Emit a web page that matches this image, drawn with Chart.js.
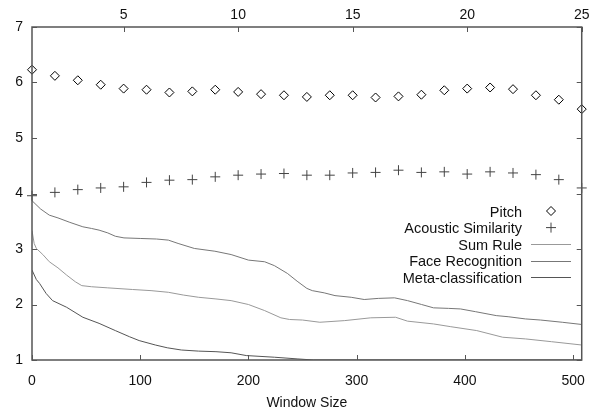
<!DOCTYPE html>
<html>
<head>
<meta charset="utf-8">
<script src="https://cdn.jsdelivr.net/npm/chart.js@4"></script>
<style>
  html, body { margin: 0; padding: 0; background: #fff; }
  #wrap { width: 598px; height: 410px; }
</style>
</head>
<body>
<div id="wrap"><canvas id="chart" width="598" height="410"></canvas></div>
<script>
const FONT       = { family: '"Liberation Sans", Arial, sans-serif', size: 14 };
const LEGEND_PX  = 14.5;
const TEXT_COLOR = '#111';
const FRAME      = '#555';

// top axis: index 1..25, scatter series
const topTicks    = [5, 10, 15, 20, 25];
const bottomTicks = [0, 100, 200, 300, 400, 500];
const pitchIdx    = [1,2,3,4,5,6,7,8,9,10,11,12,13,14,15,16,17,18,19,20,21,22,23,24,25];
const pitchVals   = [6.23,6.12,6.04,5.96,5.89,5.87,5.82,5.84,5.87,5.83,5.79,5.77,5.74,
                     5.77,5.77,5.73,5.75,5.78,5.86,5.89,5.91,5.88,5.77,5.69,5.52];
const acousticVals= [3.96,4.02,4.07,4.10,4.12,4.20,4.24,4.25,4.30,4.33,4.35,4.36,4.33,
                     4.33,4.37,4.38,4.42,4.38,4.39,4.35,4.39,4.37,4.34,4.25,4.10];

// bottom axis: window size, line series
const faceWin  = [0,8,16,24,35,47,55,62,70,77,85,100,115,126,135,150,169,184,200,215,224,236,245,
                  254,259,270,280,295,307,320,335,347,360,371,385,396,410,429,440,456,470,490,508];
const faceVals = [3.87,3.72,3.61,3.56,3.48,3.40,3.37,3.34,3.29,3.23,3.20,3.19,3.18,3.16,3.10,3.01,
                  2.96,2.90,2.80,2.77,2.70,2.56,2.42,2.29,2.25,2.21,2.16,2.13,2.09,2.11,2.12,2.07,
                  2.00,1.94,1.93,1.92,1.87,1.80,1.78,1.74,1.72,1.68,1.64];
const sumWin   = [0,2,4,10,16,24,32,40,46,55,70,93,110,126,140,154,170,184,200,215,230,238,250,
                  266,289,313,336,347,371,387,411,435,456,480,508];
const sumVals  = [3.33,3.10,3.01,2.90,2.77,2.66,2.53,2.41,2.34,2.32,2.30,2.27,2.25,2.22,2.17,2.13,
                  2.10,2.07,2.00,1.89,1.76,1.73,1.72,1.68,1.71,1.76,1.77,1.70,1.65,1.60,1.53,1.41,
                  1.38,1.33,1.27];
const metaWin  = [0,4,7,13,19,32,47,62,77,90,99,114,125,138,154,170,184,198,224,245,260,300,400,508];
const metaVals = [2.62,2.45,2.38,2.20,2.07,1.95,1.77,1.66,1.53,1.42,1.35,1.27,1.22,1.18,1.16,1.15,
                  1.13,1.08,1.05,1.02,1.00,1.00,1.00,1.00];

const pairs = (xs, ys) => xs.map((x, i) => ({ x, y: ys[i] }));

const framePlugin = {
  id: 'frame',
  afterDatasetsDraw(chart) {
    const { ctx, chartArea: a, scales } = chart;
    ctx.save();
    ctx.strokeStyle = FRAME;
    ctx.lineWidth = 1.5;
    ctx.strokeRect(a.left, a.top, a.right - a.left, a.bottom - a.top);
    ctx.lineWidth = 1;
    const len = 5;
    ctx.beginPath();
    scales.y.ticks.forEach(t => {
      const py = Math.round(scales.y.getPixelForValue(t.value)) + 0.5;
      ctx.moveTo(a.left, py);  ctx.lineTo(a.left + len, py);
      ctx.moveTo(a.right, py); ctx.lineTo(a.right - len, py);
    });
    scales.x.ticks.forEach(t => {
      const px = Math.round(scales.x.getPixelForValue(t.value)) + 0.5;
      ctx.moveTo(px, a.bottom); ctx.lineTo(px, a.bottom - len);
    });
    scales.x2.ticks.forEach(t => {
      const px = Math.round(scales.x2.getPixelForValue(t.value)) + 0.5;
      ctx.moveTo(px, a.top); ctx.lineTo(px, a.top + len);
    });
    ctx.stroke();
    ctx.restore();
  },
  afterDraw(chart) {
    // gnuplot-style legend: text right aligned, sample on the right
    const { ctx } = chart;
    const textRight = 522, sx0 = 531, sx1 = 571, top = 211, step = 16.6;
    ctx.save();
    ctx.font = `${LEGEND_PX}px ${FONT.family}`;
    ctx.textAlign = 'right';
    ctx.textBaseline = 'middle';
    chart.data.datasets.forEach((ds, i) => {
      const y = top + i * step;
      ctx.fillStyle = TEXT_COLOR;
      ctx.fillText(ds.label, textRight, y + 1.5);
      ctx.strokeStyle = ds.borderColor;
      ctx.lineWidth = 1;
      if (ds.showLine) {
        ctx.beginPath();
        ctx.moveTo(sx0, Math.round(y) + 0.5);
        ctx.lineTo(sx1, Math.round(y) + 0.5);
        ctx.stroke();
      } else {
        ctx.fillStyle = 'rgba(0,0,0,0)';
        Chart.helpers.drawPoint(ctx, {
          pointStyle: ds.pointStyle, radius: ds.pointRadius, borderWidth: 1
        }, (sx0 + sx1) / 2, y);
      }
    });
    ctx.restore();
  }
};

new Chart(document.getElementById('chart'), {
  type: 'scatter',
  data: {
    datasets: [
      { label: 'Pitch', xAxisID: 'x2', data: pairs(pitchIdx, pitchVals),
        pointStyle: 'rectRot', pointRadius: 4.5, borderColor: '#000', borderWidth: 1,
        backgroundColor: 'rgba(0,0,0,0)', clip: 10 },
      { label: 'Acoustic Similarity', xAxisID: 'x2', data: pairs(pitchIdx, acousticVals),
        pointStyle: 'cross', pointRadius: 5, borderColor: '#444', borderWidth: 1, clip: 10 },
      { label: 'Sum Rule', xAxisID: 'x', data: pairs(sumWin, sumVals), showLine: true,
        pointRadius: 0, borderColor: '#999', borderWidth: 1, tension: 0 },
      { label: 'Face Recognition', xAxisID: 'x', data: pairs(faceWin, faceVals), showLine: true,
        pointRadius: 0, borderColor: '#777', borderWidth: 1, tension: 0 },
      { label: 'Meta-classification', xAxisID: 'x', data: pairs(metaWin, metaVals), showLine: true,
        pointRadius: 0, borderColor: '#555', borderWidth: 1, tension: 0 },
    ],
  },
  options: {
    responsive: false,
    animation: false,
    layout: { padding: { left: 0, right: 11, top: 0, bottom: 0 } },
    plugins: { legend: { display: false }, tooltip: { enabled: false } },
    scales: {
      x: {
        type: 'linear', position: 'bottom', min: 0, max: 508,
        grid: { display: false, drawTicks: false }, border: { display: false },
        ticks: { color: TEXT_COLOR, font: FONT, padding: 13 },
        afterBuildTicks: s => { s.ticks = bottomTicks.map(v => ({ value: v })); },
        title: { display: true, text: 'Window Size', color: TEXT_COLOR,
                 font: { ...FONT, lineHeight: 1 }, padding: 0 },
        afterFit: s => { s.height = 50; },
      },
      x2: {
        type: 'linear', position: 'top', min: 1, max: 25,
        grid: { display: false, drawTicks: false }, border: { display: false },
        ticks: { color: TEXT_COLOR, font: FONT, padding: 3 },
        afterBuildTicks: s => { s.ticks = topTicks.map(v => ({ value: v })); },
        afterFit: s => { s.height = 27; },
      },
      y: {
        type: 'linear', min: 1, max: 7,
        grid: { display: false, drawTicks: false }, border: { display: false },
        ticks: { stepSize: 1, color: TEXT_COLOR, font: FONT, padding: 9 },
        afterFit: s => { s.width = 32; },
      },
    },
  },
  plugins: [framePlugin],
});
</script>
</body>
</html>
